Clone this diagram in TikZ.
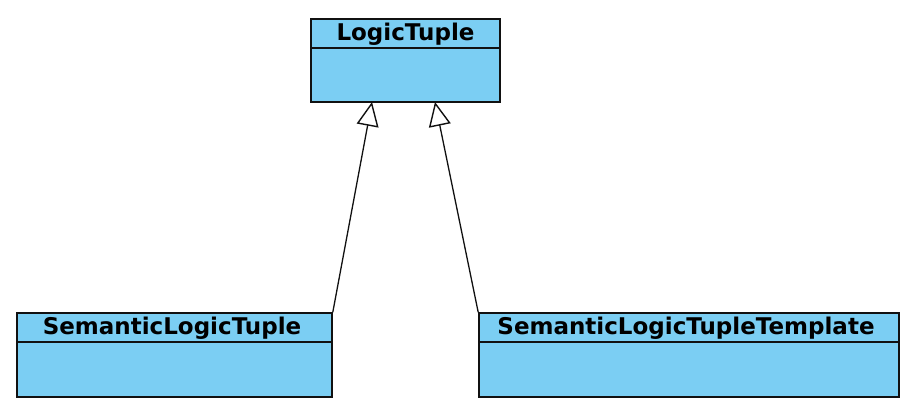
\documentclass[tikz,border=0pt]{standalone}
\usepackage{fontspec}
\setmainfont{DejaVu Sans}
\usetikzlibrary{arrows.meta}
\definecolor{UMLBlue}{HTML}{7BCEF3}
\definecolor{UMLLine}{HTML}{111111}

\begin{document}
\begin{tikzpicture}[x=1pt,y=-1pt]
\path[use as bounding box] (0,0) rectangle (900,416);
% class boxes
\node[draw=UMLLine,line width=1.6pt,fill=UMLBlue,minimum width=189pt,minimum height=83pt,inner sep=0pt] (logic) at (405.5,60.5) {};
\draw[UMLLine,line width=2pt] (311,48) -- (500,48);
\node[font=\bfseries\fontsize{23}{26}\selectfont] (logicname) at (405.5,34.5) {LogicTuple};
\node[draw=UMLLine,line width=1.6pt,fill=UMLBlue,minimum width=315pt,minimum height=84pt,inner sep=0pt] (semantic) at (174.5,355) {};
\draw[UMLLine,line width=2pt] (17,342) -- (332,342);
\node[font=\bfseries\fontsize{23}{26}\selectfont] (semanticname) at (172,328.5) {SemanticLogicTuple};
\node[draw=UMLLine,line width=1.6pt,fill=UMLBlue,minimum width=420pt,minimum height=84pt,inner sep=0pt] (template) at (689,355) {};
\draw[UMLLine,line width=2pt] (479,342) -- (899,342);
\node[font=\bfseries\fontsize{23}{26}\selectfont] (templatename) at (686,328.5) {SemanticLogicTupleTemplate};
% generalisation arrows
\coordinate (tipA) at (372,102);
\coordinate (tipB) at (435,102);
\draw[UMLLine,line width=1.3pt,-{Triangle[open,length=24pt,width=22pt,line width=1.4pt]}] (semantic.north east) -- (tipA);
\draw[UMLLine,line width=1.3pt,-{Triangle[open,length=24pt,width=22pt,line width=1.4pt]}] (template.north west) -- (tipB);
\end{tikzpicture}
\end{document}
